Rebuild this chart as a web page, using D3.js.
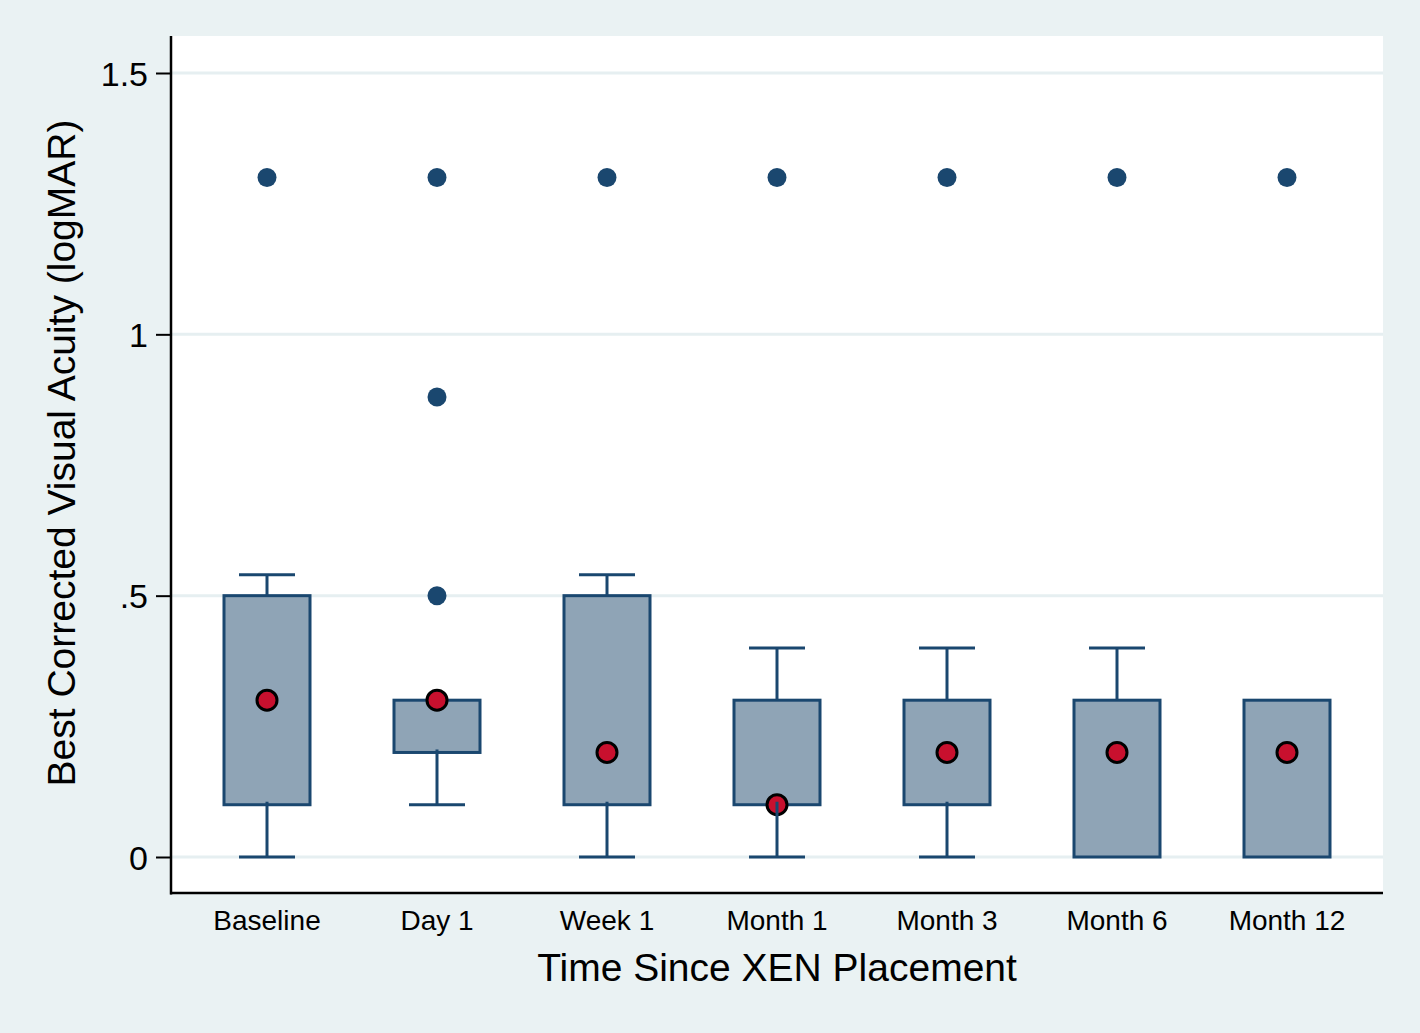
<!DOCTYPE html>
<html><head><meta charset="utf-8">
<script src="https://cdn.jsdelivr.net/npm/d3@7"></script>
<style>
html,body{margin:0;padding:0;background:#eaf2f3;}
svg{display:block;}
text{font-family:"Liberation Sans",Arial,Helvetica,sans-serif;fill:#000;}
</style></head><body>
<svg id="c" width="1420" height="1033"></svg>
<script>
const categories = ["Baseline","Day 1","Week 1","Month 1","Month 3","Month 6","Month 12"];
const q1Values     = [0.1, 0.2, 0.1, 0.1, 0.1, 0.0, 0.0];
const q3Values     = [0.5, 0.3, 0.5, 0.3, 0.3, 0.3, 0.3];
const whiskerLow   = [0.0, 0.1, 0.0, 0.0, 0.0, 0.0, 0.0];
const whiskerHigh  = [0.54, 0.3, 0.54, 0.4, 0.4, 0.4, 0.3];
const medianValues = [0.3, 0.3, 0.2, 0.1, 0.2, 0.2, 0.2];
const outlierValues = [[1.3],[1.3,0.88,0.5],[1.3],[1.3],[1.3],[1.3],[1.3]];
const yTicks = [0, 0.5, 1, 1.5];
const yTickLabels = ["0", ".5", "1", "1.5"];

(function(){
const svg = d3.select("#c");
const W = 1420, H = 1033;
svg.append("rect").attr("width",W).attr("height",H).attr("fill","#eaf2f3");

const pL = 171, pR = 1383, pT = 36, pB = 893;
svg.append("rect").attr("x",pL).attr("y",pT).attr("width",pR-pL).attr("height",pB-pT).attr("fill","#fff");

const x = d3.scaleBand().domain(categories).range([182, 1372]).padding(0);
const y = d3.scaleLinear().domain([0,1.5]).range([857,73]);

svg.append("g").selectAll("line").data(yTicks).join("line")
  .attr("x1",pL).attr("x2",pR)
  .attr("y1",d=>y(d)).attr("y2",d=>y(d))
  .attr("stroke","#e6eff1").attr("stroke-width",3);

const data = categories.map((c,i)=>({c, q1:q1Values[i], q3:q3Values[i], lo:whiskerLow[i], hi:whiskerHigh[i], med:medianValues[i], out:outlierValues[i]}));
const cx = d => x(d.c) + x.bandwidth()/2;
const boxW = 86, capW = 56;
const col = "#1a476f";

const g = svg.append("g");
g.selectAll("rect.box").data(data).join("rect").attr("class","box")
  .attr("x",d=>cx(d)-boxW/2).attr("width",boxW)
  .attr("y",d=>y(d.q3)).attr("height",d=>y(d.q1)-y(d.q3))
  .attr("fill","#8fa4b6").attr("stroke",col).attr("stroke-width",3);

data.forEach(d=>{
  g.append("g").selectAll("circle").data(d.out).join("circle")
    .attr("cx",cx(d)).attr("cy",v=>y(v)).attr("r",9.5).attr("fill",col);
});

g.selectAll("circle.med").data(data).join("circle").attr("class","med")
  .attr("cx",cx).attr("cy",d=>y(d.med)).attr("r",10)
  .attr("fill","#c8102e").attr("stroke","#000").attr("stroke-width",3);

data.forEach(d=>{
  const X = cx(d);
  if (d.hi > d.q3) {
    g.append("line").attr("x1",X).attr("x2",X).attr("y1",y(d.q3)).attr("y2",y(d.hi)).attr("stroke",col).attr("stroke-width",3);
    g.append("line").attr("x1",X-capW/2).attr("x2",X+capW/2).attr("y1",y(d.hi)).attr("y2",y(d.hi)).attr("stroke",col).attr("stroke-width",3);
  }
  if (d.lo < d.q1) {
    g.append("line").attr("x1",X).attr("x2",X).attr("y1",y(d.q1)-3).attr("y2",y(d.lo)).attr("stroke",col).attr("stroke-width",3);
    g.append("line").attr("x1",X-capW/2).attr("x2",X+capW/2).attr("y1",y(d.lo)).attr("y2",y(d.lo)).attr("stroke",col).attr("stroke-width",3);
  }
});

const yAxis = d3.axisLeft(y).tickValues(yTicks).tickFormat((d,i)=>yTickLabels[i]).tickSize(15).tickPadding(8);
const ya = svg.append("g").attr("transform",`translate(${pL},0)`).call(yAxis);
ya.select(".domain").attr("d",`M0,${pT}V${pB+1.5}`).attr("stroke","#000").attr("stroke-width",2.5);
ya.selectAll(".tick line").attr("stroke","#000").attr("stroke-width",2);
ya.selectAll(".tick text").attr("font-size",34).attr("dy","0.36em").attr("font-family","Liberation Sans, Arial, sans-serif").attr("fill","#000");

const xAxis = d3.axisBottom(x).tickSize(0).tickPadding(17);
const xa = svg.append("g").attr("transform",`translate(0,${pB})`).call(xAxis);
xa.select(".domain").attr("d",`M${pL-1},0H${pR}`).attr("stroke","#000").attr("stroke-width",2.5);
xa.selectAll(".tick text").attr("font-size",28).attr("font-family","Liberation Sans, Arial, sans-serif").attr("fill","#000");

svg.append("text").attr("x",777).attr("y",981).attr("text-anchor","middle").attr("font-size",39).text("Time Since XEN Placement");
svg.append("text").attr("transform","translate(75,453) rotate(-90)").attr("text-anchor","middle").attr("font-size",39).text("Best Corrected Visual Acuity (logMAR)");
})();
</script>
</body></html>
